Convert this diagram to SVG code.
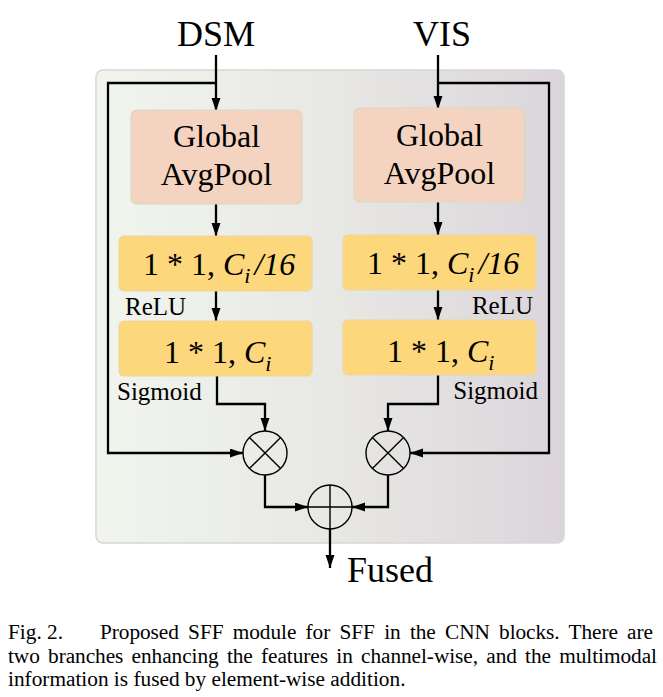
<svg xmlns="http://www.w3.org/2000/svg" width="663" height="697" viewBox="0 0 663 697">
<defs>
<linearGradient id="bg" x1="0" y1="0" x2="1" y2="0">
<stop offset="0" stop-color="#f1f5ee"/>
<stop offset="0.5" stop-color="#e8e8e4"/>
<stop offset="1" stop-color="#dbd5db"/>
</linearGradient>
<marker id="ah" markerUnits="userSpaceOnUse" markerWidth="14" markerHeight="10" refX="13" refY="4.5" orient="auto">
<path d="M0,0 L13,4.5 L0,9 z" fill="#000"/>
</marker>
</defs>
<style>
text{font-family:"Liberation Serif","Times New Roman",serif;fill:#000}
.pool{fill:#f4d4c1;stroke:#d9d7c6;stroke-width:1.2}
.conv{fill:#fdd77b;stroke:#ecd6a2;stroke-width:1.2}
.big{font-size:32px}
.lbl{font-size:25px}
.io{font-size:36px}
.cap{font-size:21.3px}
.op{fill:none;stroke:#000;stroke-width:1.4}
.wire{fill:none;stroke:#000;stroke-width:2.3;marker-end:url(#ah)}
.it{font-style:italic}
</style>
<rect id="panel" x="96" y="70" width="468" height="473" rx="7" fill="url(#bg)" stroke="#d8d6d8" stroke-width="1.5"/>
<g id="connectors">
<path class="wire" d="M216,55 V111"/>
<path class="wire" d="M216,83 H108 V453 H243"/>
<path class="wire" d="M438,55 V109"/>
<path class="wire" d="M438,83 H549 V453 H410"/>
<path class="wire" d="M216,204 V236"/>
<path class="wire" d="M216,291 V321"/>
<path class="wire" d="M217,376 V404 H265 V431"/>
<path class="wire" d="M438,202 V235"/>
<path class="wire" d="M438,290 V320"/>
<path class="wire" d="M438,375 V404 H388 V431"/>
<path class="wire" d="M265,475 V507 H308"/>
<path class="wire" d="M388,475 V507 H352"/>
<path class="wire" d="M330,529 V568"/>
</g>
<g id="dsm"><text class="io" x="216" y="46" text-anchor="middle">DSM</text></g>
<g id="vis"><text class="io" x="442" y="46" text-anchor="middle">VIS</text></g>
<g id="pool-left">
<rect class="pool" x="131" y="110" width="171" height="94" rx="6"/>
<text class="big" x="216.5" y="147" text-anchor="middle">Global</text>
<text class="big" x="216.5" y="185" text-anchor="middle">AvgPool</text>
</g>
<g id="pool-right">
<rect class="pool" x="354" y="108" width="171" height="94" rx="6"/>
<text class="big" x="439.5" y="146" text-anchor="middle">Global</text>
<text class="big" x="439.5" y="184" text-anchor="middle">AvgPool</text>
</g>
<g id="conv1-left">
<rect class="conv" x="119" y="236" width="193" height="55" rx="5"/>
<text class="big" x="143" y="275">1 * 1, <tspan class="it">C</tspan><tspan class="it" font-size="22" dy="8">i</tspan><tspan class="it" dx="4" dy="-8">/16</tspan></text>
</g>
<g id="conv1-right">
<rect class="conv" x="343" y="235" width="193" height="55" rx="5"/>
<text class="big" x="367" y="274">1 * 1, <tspan class="it">C</tspan><tspan class="it" font-size="22" dy="8">i</tspan><tspan class="it" dx="4" dy="-8">/16</tspan></text>
</g>
<g id="relu-left"><text class="lbl" x="125" y="315">ReLU</text></g>
<g id="relu-right"><text class="lbl" x="533" y="314" text-anchor="end">ReLU</text></g>
<g id="conv2-left">
<rect class="conv" x="119" y="321" width="193" height="55" rx="5"/>
<text class="big" x="164" y="363">1 * 1, <tspan class="it">C</tspan><tspan class="it" font-size="22" dy="8">i</tspan></text>
</g>
<g id="conv2-right">
<rect class="conv" x="343" y="320" width="193" height="55" rx="5"/>
<text class="big" x="387" y="362">1 * 1, <tspan class="it">C</tspan><tspan class="it" font-size="22" dy="8">i</tspan></text>
</g>
<g id="sigmoid-left"><text class="lbl" x="117" y="400">Sigmoid</text></g>
<g id="sigmoid-right"><text class="lbl" x="538" y="399" text-anchor="end">Sigmoid</text></g>
<g id="mul-left">
<circle class="op" cx="265" cy="453" r="22"/>
<path class="op" d="M249.4,437.4 L280.6,468.6 M280.6,437.4 L249.4,468.6"/>
</g>
<g id="mul-right">
<circle class="op" cx="388" cy="453" r="22"/>
<path class="op" d="M372.4,437.4 L403.6,468.6 M403.6,437.4 L372.4,468.6"/>
</g>
<g id="add">
<circle class="op" cx="330" cy="507" r="22"/>
<path class="op" d="M308,507 H352 M330,485 V529"/>
</g>
<g id="fused"><text class="io" x="347" y="582" font-size="37">Fused</text></g>
<g id="caption">
<text class="cap" x="8" y="639">Fig. 2.</text>
<text class="cap" x="100" y="639" word-spacing="4" textLength="553" lengthAdjust="spacing">Proposed SFF module for SFF in the CNN blocks. There are</text>
<text class="cap" x="8" y="663" word-spacing="3" textLength="649" lengthAdjust="spacing">two branches enhancing the features in channel-wise, and the multimodal</text>
<text class="cap" x="8" y="686">information is fused by element-wise addition.</text>
</g>
</svg>
